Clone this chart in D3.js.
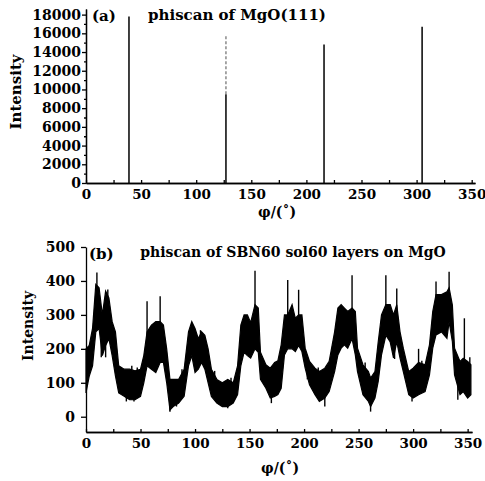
<!DOCTYPE html>
<html>
<head>
<meta charset="utf-8">
<script src="https://cdn.jsdelivr.net/npm/d3@7"></script>
<style>
  body { margin: 0; background: #fff; }
  svg text { font-family: "DejaVu Serif", serif; fill: #000; }
</style>
</head>
<body>
<div id="chart"></div>
<script>
// (a) MgO(111) phi scan: four sharp peaks
const peakPhi = [39, 127, 216, 305];
const peakTop = [17800, 15800, 14800, 16700];
const peakSolidTo = [17800, 9500, 14800, 16700]; // peak 2 is dotted above this
const topYTicks = [0, 2000, 4000, 6000, 8000, 10000, 12000, 14000, 16000, 18000];
const xTicks = [0, 50, 100, 150, 200, 250, 300, 350];

// (b) SBN60 layers: noisy trace, read as lower/upper envelope
const bPhi = [0, 3, 6, 9, 12, 15, 18, 21, 24, 27, 30, 35, 40, 45, 50, 53, 56, 60, 64, 68, 71, 74, 77, 80, 85, 90, 94, 97, 100, 103, 106, 109, 112, 115, 120, 125, 130, 135, 139, 142, 145, 148, 151, 155, 158, 160, 165, 169, 173, 176, 179, 182, 185, 189, 192, 195, 198, 201, 205, 210, 214, 219, 223, 228, 231, 234, 237, 240, 244, 247, 249, 254, 259, 261, 265, 268, 271, 275, 279, 282, 285, 288, 291, 296, 300, 305, 311, 315, 318, 321, 326, 331, 333, 336, 338, 343, 346, 350, 353];
const bLo = [70, 120, 150, 250, 260, 180, 210, 230, 180, 120, 70, 60, 50, 50, 60, 100, 150, 140, 130, 160, 160, 100, 20, 30, 40, 60, 150, 180, 130, 140, 160, 140, 100, 60, 40, 30, 30, 40, 65, 150, 190, 180, 173, 200, 190, 110, 84, 55, 60, 65, 84, 182, 200, 200, 192, 210, 192, 143, 94, 65, 45, 55, 74, 133, 182, 202, 212, 202, 230, 182, 133, 65, 45, 30, 55, 104, 182, 240, 220, 173, 221, 173, 133, 65, 55, 65, 74, 123, 202, 241, 250, 231, 280, 221, 123, 65, 74, 55, 65];
const bHi = [200, 210, 260, 390, 380, 300, 370, 350, 280, 250, 150, 140, 140, 135, 140, 180, 250, 270, 280, 280, 270, 200, 110, 110, 110, 140, 250, 280, 260, 230, 250, 240, 200, 140, 110, 100, 110, 100, 150, 270, 300, 300, 277, 330, 320, 190, 153, 143, 160, 165, 212, 300, 300, 330, 290, 300, 300, 202, 163, 143, 133, 143, 163, 250, 320, 330, 320, 310, 320, 310, 202, 153, 133, 114, 133, 221, 300, 330, 330, 300, 330, 250, 202, 133, 143, 160, 153, 212, 310, 360, 360, 368, 380, 329, 202, 163, 172, 163, 153];
// isolated noise spikes [phi, tip value, base value]
const spikeUp = [[10, 425, 330], [20, 375, 300], [42, 150, 100], [47, 145, 100], [56, 340, 230], [68, 355, 260], [88, 140, 100], [105, 255, 200], [118, 135, 90], [133, 115, 80], [155, 430, 320], [185, 403, 290], [195, 374, 290], [213, 145, 110], [244, 417, 310], [256, 160, 120], [275, 417, 320], [285, 378, 300], [305, 200, 140], [308, 165, 130], [321, 398, 340], [333, 427, 370], [347, 290, 160], [352, 175, 140]];
const spikeDown = [[14, 175, 240], [18, 175, 240], [37, 45, 80], [44, 45, 80], [77, 15, 60], [83, 30, 60], [130, 25, 60], [170, 40, 80], [203, 110, 160], [219, 30, 70], [261, 15, 50], [283, 170, 230], [299, 45, 80], [341, 50, 100]];
const bYTicks = [0, 100, 200, 300, 400, 500];

const W = 485, H = 481;
const svg = d3.select("#chart").append("svg").attr("width", W).attr("height", H);

function styleAxis(g, size) {
  g.selectAll("path, line").attr("stroke", "#000").attr("stroke-width", 1.3);
  g.selectAll("text").attr("font-size", size || "13px").attr("font-weight", "bold")
    .attr("font-family", "DejaVu Serif, serif");
}

// ---------- panel (a) ----------
const xa = d3.scaleLinear().domain([0, 353]).range([86, 475]);
const ya = d3.scaleLinear().domain([0, 18600]).range([183, 9]);

svg.append("g").attr("transform", "translate(0,183)")
  .call(d3.axisBottom(xa).tickValues(d3.range(25, 351, 50)).tickSizeInner(-3).tickSizeOuter(0).tickFormat(""))
  .call(styleAxis);
svg.append("g").attr("transform", "translate(0,183)")
  .call(d3.axisBottom(xa).tickValues(xTicks).tickSizeInner(-3).tickSizeOuter(0).tickPadding(6).tickFormat(d3.format("d")))
  .call(g => styleAxis(g, "13.5px"));
svg.append("g").attr("transform", "translate(86,0)")
  .call(d3.axisLeft(ya).tickValues(d3.range(1000, 18001, 2000)).tickSizeInner(2).tickSizeOuter(0).tickFormat(""))
  .call(styleAxis);
svg.append("g").attr("transform", "translate(86,0)")
  .call(d3.axisLeft(ya).tickValues(topYTicks).tickSizeInner(4).tickSizeOuter(0).tickPadding(1).tickFormat(d3.format("d")))
  .call(g => styleAxis(g, "14px"));

const peaks = svg.append("g");
peaks.selectAll("line.solid").data(peakPhi).join("line")
  .attr("x1", d => xa(d)).attr("x2", d => xa(d))
  .attr("y1", ya(0)).attr("y2", (d, i) => ya(peakSolidTo[i]))
  .attr("stroke", "#000").attr("stroke-width", 1.5);
peaks.selectAll("line.dot").data(peakPhi.filter((d, i) => peakTop[i] > peakSolidTo[i])).join("line")
  .attr("x1", d => xa(d)).attr("x2", d => xa(d))
  .attr("y1", d => ya(peakSolidTo[peakPhi.indexOf(d)]))
  .attr("y2", d => ya(peakTop[peakPhi.indexOf(d)]))
  .attr("stroke", "#777").attr("stroke-width", 1.3).attr("stroke-dasharray", "3,2");

svg.append("text").attr("x", 92).attr("y", 21).attr("font-size", "15px").attr("font-weight", "bold").text("(a)");
svg.append("text").attr("x", 237).attr("y", 20).attr("text-anchor", "middle")
  .attr("font-size", "15px").attr("font-weight", "bold").text("phiscan of MgO(111)");
svg.append("text").attr("transform", "translate(21,92) rotate(-90)").attr("text-anchor", "middle")
  .attr("font-size", "15px").attr("font-weight", "bold").text("Intensity");
svg.append("text").attr("x", 277).attr("y", 217).attr("text-anchor", "middle")
  .attr("font-size", "14px").attr("font-weight", "bold").text("φ/(˚)");

// ---------- panel (b) ----------
const xb = d3.scaleLinear().domain([0, 354]).range([86, 472]);
const yb = d3.scaleLinear().domain([-45, 500]).range([432, 247]);

svg.append("g").attr("transform", "translate(0,432)")
  .call(d3.axisBottom(xb).tickValues(d3.range(25, 351, 50)).tickSizeInner(-3).tickSizeOuter(0).tickFormat(""))
  .call(styleAxis);
svg.append("g").attr("transform", "translate(0,432)")
  .call(d3.axisBottom(xb).tickValues(xTicks).tickSizeInner(-3).tickSizeOuter(0).tickPadding(6).tickFormat(d3.format("d")))
  .call(g => styleAxis(g, "13.5px"));
svg.append("g").attr("transform", "translate(86,0)")
  .call(d3.axisLeft(yb).tickValues(bYTicks).tickSizeInner(5).tickSizeOuter(0).tickPadding(6).tickFormat(d3.format("d")))
  .call(g => styleAxis(g, "14px"));

const band = d3.area()
  .x((d, i) => xb(bPhi[i]))
  .y0((d, i) => yb(bLo[i]))
  .y1((d, i) => yb(bHi[i]));
svg.append("path").datum(bPhi).attr("d", band)
  .attr("fill", "#000").attr("stroke", "#000").attr("stroke-width", 1.2);

svg.append("g").selectAll("line").data(spikeUp.concat(spikeDown)).join("line")
  .attr("x1", d => xb(d[0])).attr("x2", d => xb(d[0]))
  .attr("y1", d => yb(d[2])).attr("y2", d => yb(d[1]))
  .attr("stroke", "#000").attr("stroke-width", 1.4);

svg.append("text").attr("x", 89).attr("y", 259).attr("font-size", "15px").attr("font-weight", "bold").text("(b)");
svg.append("text").attr("x", 293).attr("y", 257).attr("text-anchor", "middle")
  .attr("font-size", "14px").attr("font-weight", "bold").text("phiscan of SBN60 sol60 layers on MgO");
svg.append("text").attr("transform", "translate(33,326) rotate(-90)").attr("text-anchor", "middle")
  .attr("font-size", "14px").attr("font-weight", "bold").text("Intensity");
svg.append("text").attr("x", 280).attr("y", 473).attr("text-anchor", "middle")
  .attr("font-size", "14px").attr("font-weight", "bold").text("φ/(˚)");
</script>
</body>
</html>
